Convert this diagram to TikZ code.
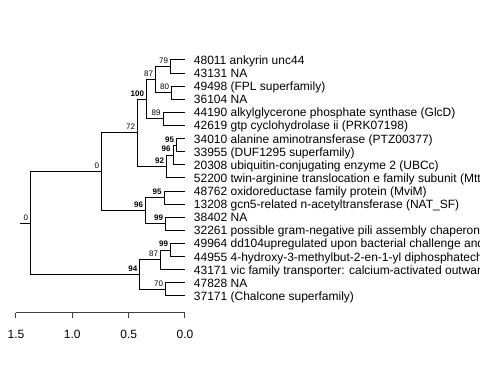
\documentclass[tikz,border=0pt]{standalone}
\usepackage{fontspec}
\setmainfont{Liberation Sans}
\usetikzlibrary{positioning}

\begin{document}
\begin{tikzpicture}[x=0.75pt, y=-0.75pt,
    branch/.style={line width=0.75pt, black},
    leaf/.style={inner sep=0pt, anchor=west, text height=6.6pt, text depth=0pt, font=\fontsize{9}{10}\selectfont},
    boot/.style={inner sep=0pt, text height=4.4pt, text depth=0pt, font=\fontsize{6}{7}\selectfont},
    bootb/.style={boot, font=\fontsize{6}{7}\selectfont\bfseries}]
    \useasboundingbox (0,0) rectangle (480,384);
    \clip (0,0) rectangle (480,384);

    % Tips
    \coordinate (t0) at (185,60);
    \coordinate (t1) at (185,73.11);
    \coordinate (t2) at (185,86.22);
    \coordinate (t3) at (185,99.33);
    \coordinate (t4) at (185,112.44);
    \coordinate (t5) at (185,125.56);
    \coordinate (t6) at (185,138.67);
    \coordinate (t7) at (185,151.78);
    \coordinate (t8) at (185,164.89);
    \coordinate (t9) at (185,178);
    \coordinate (t10) at (185,191.11);
    \coordinate (t11) at (185,204.22);
    \coordinate (t12) at (185,217.33);
    \coordinate (t13) at (185,230.44);
    \coordinate (t14) at (185,243.56);
    \coordinate (t15) at (185,256.67);
    \coordinate (t16) at (185,269.78);
    \coordinate (t17) at (185,282.89);
    \coordinate (t18) at (185,296);

    % Inner nodes
    \coordinate (G) at (170.7,66.56);
    \coordinate (H) at (171.7,92.78);
    \coordinate (E) at (155.7,79.67);
    \coordinate (F) at (163.3,119);
    \coordinate (C) at (146.7,99.33);
    \coordinate (J) at (176.7,145.22);
    \coordinate (I) at (173.3,155.06);
    \coordinate (D) at (166.7,166.53);
    \coordinate (B) at (137.7,132.93);
    \coordinate (L) at (164.3,197.67);
    \coordinate (M) at (165.7,223.89);
    \coordinate (K) at (145.7,210.78);
    \coordinate (A) at (101.7,171.86);
    \coordinate (Q) at (170.7,250.11);
    \coordinate (O) at (160.7,259.94);
    \coordinate (P) at (165.7,289.44);
    \coordinate (N) at (140,274.69);
    \coordinate (R) at (30.7,223.28);
    \coordinate (stub) at (20,223.28);

    % Branches
    \draw[branch] (stub) -- (R);
    \draw[branch] (R) |- (A) (R) |- (N);
    \draw[branch] (A) |- (B) (A) |- (K);
    \draw[branch] (B) |- (C) (B) |- (D);
    \draw[branch] (C) |- (E) (C) |- (F);
    \draw[branch] (E) |- (G) (E) |- (H);
    \draw[branch] (G) |- (t0) (G) |- (t1);
    \draw[branch] (H) |- (t2) (H) |- (t3);
    \draw[branch] (F) |- (t4) (F) |- (t5);
    \draw[branch] (D) |- (I) (D) |- (t9);
    \draw[branch] (I) |- (J) (I) |- (t8);
    \draw[branch] (J) |- (t6) (J) |- (t7);
    \draw[branch] (K) |- (L) (K) |- (M);
    \draw[branch] (L) |- (t10) (L) |- (t11);
    \draw[branch] (M) |- (t12) (M) |- (t13);
    \draw[branch] (N) |- (O) (N) |- (P);
    \draw[branch] (O) |- (Q) (O) |- (t16);
    \draw[branch] (Q) |- (t14) (Q) |- (t15);
    \draw[branch] (P) |- (t17) (P) |- (t18);

    % Support values
    \node[boot, above left=2.2pt and 1.8pt of R] (sR) {0};
    \node[boot, above left=2.2pt and 1.8pt of A] (sA) {0};
    \node[boot, above left=2.2pt and 1.8pt of B] (sB) {72};
    \node[bootb, above left=2.2pt and 1.8pt of C] (sC) {100};
    \node[boot, above left=2.2pt and 1.8pt of E] (sE) {87};
    \node[boot, above left=2.2pt and 1.8pt of G] (sG) {79};
    \node[boot, above left=2.2pt and 1.8pt of H] (sH) {80};
    \node[boot, above left=2.2pt and 1.8pt of F] (sF) {89};
    \node[bootb, above left=2.2pt and 1.8pt of D] (sD) {92};
    \node[bootb, above left=2.2pt and 1.8pt of I] (sI) {96};
    \node[bootb, above left=2.2pt and 1.8pt of J] (sJ) {95};
    \node[bootb, above left=2.2pt and 1.8pt of K] (sK) {96};
    \node[bootb, above left=2.2pt and 1.8pt of L] (sL) {95};
    \node[bootb, above left=2.2pt and 1.8pt of M] (sM) {99};
    \node[bootb, above left=2.2pt and 1.8pt of N] (sN) {94};
    \node[boot, above left=2.2pt and 1.8pt of O] (sO) {87};
    \node[bootb, above left=2.2pt and 1.8pt of Q] (sQ) {99};
    \node[boot, above left=2.2pt and 1.8pt of P] (sP) {70};

    % Tip labels
    \node[leaf, right=6.5pt of t0] (n0) {48011 ankyrin unc44};
    \node[leaf, right=6.5pt of t1] (n1) {43131 NA};
    \node[leaf, right=6.5pt of t2] (n2) {49498 (FPL superfamily)};
    \node[leaf, right=6.5pt of t3] (n3) {36104 NA};
    \node[leaf, right=6.5pt of t4] (n4) {44190 alkylglycerone phosphate synthase (GlcD)};
    \node[leaf, right=6.5pt of t5] (n5) {42619 gtp cyclohydrolase ii (PRK07198)};
    \node[leaf, right=6.5pt of t6] (n6) {34010 alanine aminotransferase (PTZ00377)};
    \node[leaf, right=6.5pt of t7] (n7) {33955 (DUF1295 superfamily)};
    \node[leaf, right=6.5pt of t8] (n8) {20308 ubiquitin-conjugating enzyme 2 (UBCc)};
    \node[leaf, right=6.5pt of t9] (n9) {52200 twin-arginine translocation e family subunit (MttA};
    \node[leaf, right=6.5pt of t10] (n10) {48762 oxidoreductase family protein (MviM)};
    \node[leaf, right=6.5pt of t11] (n11) {13208 gcn5-related n-acetyltransferase (NAT\_SF)};
    \node[leaf, right=6.5pt of t12] (n12) {38402 NA};
    \node[leaf, right=6.5pt of t13] (n13) {32261 possible gram-negative pili assembly chaperone};
    \node[leaf, right=6.5pt of t14] (n14) {49964 dd104upregulated upon bacterial challenge and};
    \node[leaf, right=6.5pt of t15] (n15) {44955 4-hydroxy-3-methylbut-2-en-1-yl diphosphatech};
    \node[leaf, right=6.5pt of t16] (n16) {43171 vic family transporter: calcium-activated outward};
    \node[leaf, right=6.5pt of t17] (n17) {47828 NA};
    \node[leaf, right=6.5pt of t18] (n18) {37171 (Chalcone superfamily)};

    % Scale axis
    \coordinate (axl) at (16,312.7);
    \coordinate (axr) at (185,312.7);
    \draw[line width=0.75pt, black!75] (axl) -- (axr);
    \foreach \x/\v [count=\i] in {16/1.5, 72.3/1.0, 128.7/0.5, 185/0.0} {
        \draw[line width=0.75pt, black!75] (\x,312.7) -- ++(0,5.6);
        \node[leaf, anchor=center] (ax\i) at (\x,334.5) {\v};
    }
\end{tikzpicture}
\end{document}
